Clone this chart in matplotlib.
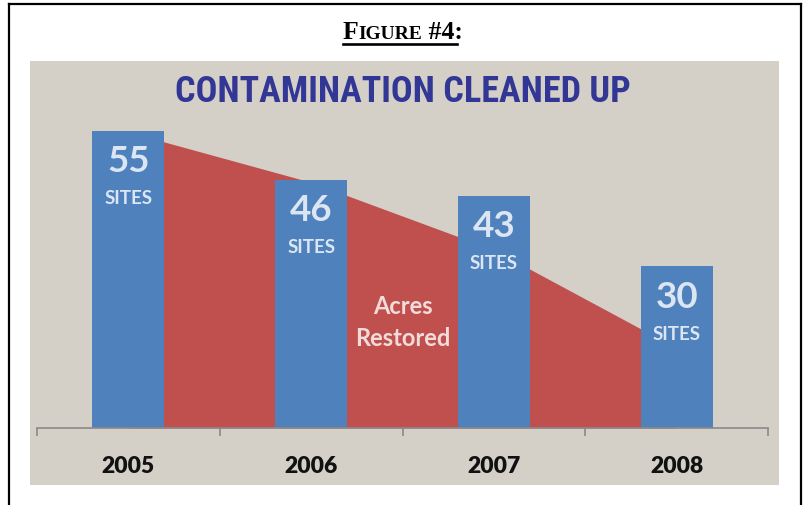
import matplotlib
matplotlib.use("Agg")
import matplotlib.pyplot as plt
from matplotlib.lines import Line2D
from matplotlib.patches import Rectangle
import numpy as np

# data
years = ["2005", "2006", "2007", "2008"]
sites = [55, 46, 43, 30]
# acres restored (drawn on the same scale as the sites bars)
acres = [54.8, 45.5, 33.0, 14.8]

W, H = 806, 505
fig = plt.figure(figsize=(W / 100, H / 100), dpi=100)
fig.patch.set_facecolor("white")


def fx(px):
    return px / W


def fy(py):
    return 1 - py / H


# outer frame (open at the bottom)
frame = dict(color="black", lw=1.6, solid_capstyle="projecting")
fig.add_artist(Line2D([fx(9), fx(9)], [fy(4), 0], **frame))
fig.add_artist(Line2D([fx(801), fx(801)], [fy(4), 0], **frame))
fig.add_artist(Line2D([fx(9), fx(801)], [fy(4), fy(4)], **frame))

# gray slide panel
fig.add_artist(Rectangle((fx(30), fy(485)), fx(779) - fx(30), fy(61) - fy(485),
                         facecolor="#d4d0c8", edgecolor="none", zorder=0))

# "FIGURE #4:" in small caps, underlined
renderer = fig.canvas.get_renderer()
x = 343
serif = dict(family=["Liberation Serif", "DejaVu Serif"], weight="bold", color="black",
             va="baseline", ha="left")
for s, size in [("F", 18.5), ("IGURE", 14), (" #4:", 18.5)]:
    t = fig.text(fx(x), fy(39), s, fontsize=size, **serif)
    x = t.get_window_extent(renderer).x1
fig.add_artist(Line2D([fx(343), fx(x - 6)], [fy(43.5), fy(43.5)], color="black", lw=1.9))

# slide title
fig.text(fx(403), fy(102), "CONTAMINATION CLEANED UP", ha="center", va="baseline",
         fontsize=26, weight="bold", color="#323694",
         family=["Roboto Condensed", "DejaVu Sans"])

# chart axes
base = 428
ymax = 60
ppu = 5.4
ax = fig.add_axes([fx(37), fy(base), fx(768) - fx(37), ymax * ppu / H])
ax.set_xlim(-0.5, 3.5)
ax.set_ylim(0, ymax)
ax.patch.set_visible(False)
for side in ["top", "right", "left"]:
    ax.spines[side].set_visible(False)
ax.spines["bottom"].set_color("#8a8a8a")
ax.spines["bottom"].set_linewidth(1.2)
ax.set_yticks([])

xpos = np.arange(len(years))
ax.fill_between(xpos, acres, 0, color="#c0504d", linewidth=0, zorder=1)
ax.bar(xpos, sites, width=0.395, color="#4f81bd", zorder=2)

ax.set_xticks(np.arange(-0.5, 4, 1.0))
ax.set_xticklabels([])
ax.tick_params(axis="x", which="major", length=6, width=1.2, color="#8a8a8a", direction="out")
ax.set_xticks(xpos, years, minor=True)
ax.tick_params(axis="x", which="minor", length=0, pad=20, labelsize=16.5, labelcolor="#111111")
for lab in ax.get_xticklabels(minor=True):
    lab.set_family(["Lato", "DejaVu Sans"])
    lab.set_weight("heavy")

label_font = dict(family=["Lato", "DejaVu Sans"], weight="bold", color="#dce6f2",
                  ha="center", va="center", textcoords="offset pixels", zorder=3)
for i, v in enumerate(sites):
    ax.annotate(str(v), (i, v), xytext=(0, -31), fontsize=26.5, **label_font)
    ax.annotate("SITES", (i, v), xytext=(0, -68), fontsize=13.5, **label_font)

area_font = dict(family=["Lato", "DejaVu Sans"], weight="bold", color="#f2dcdb",
                 ha="center", va="center", fontsize=17, zorder=3)
ax.text(1.5, (base - 306) / ppu, "Acres", **area_font)
ax.text(1.5, (base - 338) / ppu, "Restored", **area_font)

fig.savefig("out.png", dpi=100)
